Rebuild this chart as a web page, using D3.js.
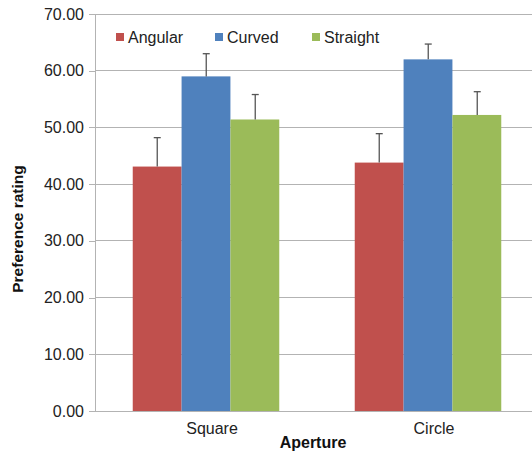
<!DOCTYPE html>
<html><head><meta charset="utf-8">
<script src="https://cdn.jsdelivr.net/npm/d3@7"></script>
<style>body{margin:0;background:#fff}svg{display:block;font-family:"Liberation Sans",Arial,sans-serif}</style>
</head><body><svg id="c" width="532" height="455"></svg>
<script>
const categories = ["Square", "Circle"];
const series = ["Angular", "Curved", "Straight"];
const colors = ["#C0504D", "#4F81BD", "#9BBB59"];
const values = [[43.1, 59.0, 51.4], [43.8, 62.0, 52.2]];
const errors = [[5.1, 4.0, 4.4], [5.1, 2.7, 4.1]];
const yTicks = [0, 10, 20, 30, 40, 50, 60, 70];

const svg = d3.select("#c");
const L = 95, R = 539, T = 14, B = 411;
const x0 = d3.scaleBand().domain(categories).range([L, R]).paddingInner(0.34).paddingOuter(0.17);
const x1 = d3.scaleBand().domain(series).range([0, x0.bandwidth()]);
const y = d3.scaleLinear().domain([0, 70]).range([B, T]);

// gridlines
svg.append("g").selectAll("line").data(yTicks).join("line")
  .attr("x1", L).attr("x2", 532).attr("y1", d => y(d)).attr("y2", d => y(d))
  .attr("stroke", "#b3b3b3").attr("stroke-width", 1).attr("shape-rendering", "crispEdges");

// y axis
const yAxis = d3.axisLeft(y).tickValues(yTicks).tickFormat(d3.format(".2f")).tickSize(6).tickPadding(5);
const ga = svg.append("g").attr("transform", `translate(${L},0)`).call(yAxis);
ga.select(".domain").attr("stroke", "#b3b3b3").attr("d", `M0,${T}V${B}`);
ga.selectAll(".tick line").attr("stroke", "#b3b3b3");
ga.selectAll("text").attr("font-size", 16).attr("fill", "#222").attr("font-family", "Liberation Sans, Arial, sans-serif");
ga.attr("shape-rendering", "crispEdges");

// bars
const groups = svg.append("g").selectAll("g").data(categories).join("g")
  .attr("transform", d => `translate(${x0(d)},0)`);
groups.each(function(cat, ci) {
  const g = d3.select(this);
  series.forEach((s, si) => {
    const v = values[ci][si], e = errors[ci][si];
    g.append("rect").attr("x", x1(s)).attr("width", x1.bandwidth())
      .attr("y", y(v)).attr("height", y(0) - y(v)).attr("fill", colors[si]);
    const cx = Math.round(x1(s) + x1.bandwidth() / 2) + 0.5;
    g.append("line").attr("x1", cx).attr("x2", cx).attr("y1", y(v)).attr("y2", y(v + e))
      .attr("stroke", "#555").attr("stroke-width", 1.3);
    g.append("line").attr("x1", cx - 3.5).attr("x2", cx + 3.5).attr("y1", y(v + e)).attr("y2", y(v + e))
      .attr("stroke", "#555").attr("stroke-width", 1.3);
  });
});

// x axis labels
svg.append("g").selectAll("text").data(categories).join("text")
  .attr("x", d => x0(d) + x0.bandwidth() / 2 + 6).attr("y", 434)
  .attr("text-anchor", "middle").attr("font-size", 16).attr("fill", "#222").text(d => d);

svg.append("text").attr("x", 313).attr("y", 448).attr("text-anchor", "middle")
  .attr("font-size", 16).attr("font-weight", "bold").attr("fill", "#111").text("Aperture");
svg.append("text").attr("transform", `translate(23,229) rotate(-90)`).attr("text-anchor", "middle")
  .attr("font-size", 15.5).attr("font-weight", "bold").attr("fill", "#111").text("Preference rating");

// legend
const legX = [116, 215, 312];
const lg = svg.append("g").selectAll("g").data(series).join("g")
  .attr("transform", (d, i) => `translate(${legX[i]},38)`);
lg.append("rect").attr("x", 0).attr("y", -5).attr("width", 8).attr("height", 8).attr("fill", (d, i) => colors[i]);
lg.append("text").attr("x", 12).attr("y", 5).attr("font-size", 16).attr("fill", "#222").text(d => d);
</script></body></html>
